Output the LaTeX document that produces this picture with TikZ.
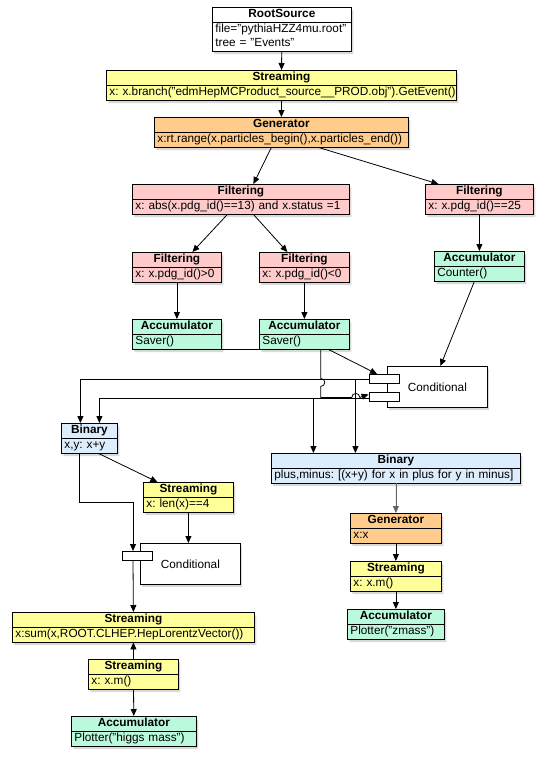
\documentclass[tikz,border=0pt]{standalone}
\usepackage{fontspec}
\setmainfont{Liberation Sans}
\usetikzlibrary{shapes.multipart}
\usetikzlibrary{shadows}
\usetikzlibrary{arrows.meta}
\usetikzlibrary{positioning}
\frenchspacing

\definecolor{strmcol}{HTML}{FFFF99}
\definecolor{gencol}{HTML}{FFCC8C}
\definecolor{filtcol}{HTML}{FFCACA}
\definecolor{acccol}{HTML}{BBF9DC}
\definecolor{bincol}{HTML}{DCEDFD}

\newcommand{\stagetitle}[1]{\makebox[\hsize][c]{\strut\textbf{#1}}}

\tikzset{
  stage/.style={rectangle split, rectangle split parts=2, draw, line width=0.8pt,
    anchor=north west, inner xsep=3pt, inner ysep=0pt, align=left,
    font=\fontsize{11.8}{14}\selectfont\frenchspacing,
    drop shadow={shadow xshift=2pt, shadow yshift=-3pt, opacity=0.3}},
  condbox/.style={draw, fill=white, line width=0.8pt, anchor=north west,
    minimum width=100pt, minimum height=41pt, font=\fontsize{11.8}{14}\selectfont,
    drop shadow={shadow xshift=2pt, shadow yshift=-3pt, opacity=0.3}},
  port/.style={draw, fill=white, line width=0.8pt, minimum width=30pt,
    minimum height=9pt, inner sep=0pt},
  flow/.style={line width=0.8pt, -{Triangle[length=7pt,width=6pt]}}
}

\begin{document}
\begin{tikzpicture}[x=1pt, y=-1pt]
\useasboundingbox (0,0) rectangle (544,758);

% upper chain
\node[stage, fill=white, text width=133pt] (src) at (212,7)
  {\stagetitle{RootSource}\nodepart{two}\strut file="pythiaHZZ4mu.root"\\\strut tree = "Events"};
\node[stage, fill=strmcol, text width=344pt] (strm1) at (106,70)
  {\stagetitle{Streaming}\nodepart{two}\strut x: x.branch("edmHepMCProduct\_source\_\_PROD.obj").GetEvent()};
\node[stage, fill=gencol, text width=248pt] (gen1) at (154,117)
  {\stagetitle{Generator}\nodepart{two}\strut x:rt.range(x.particles\_begin(),x.particles\_end())};

% filters
\node[stage, fill=filtcol, text width=211pt] (filt1) at (132,184)
  {\stagetitle{Filtering}\nodepart{two}\strut x: abs(x.pdg\_id()==13) and x.status =1};
\node[stage, fill=filtcol, text width=102pt] (filt2) at (425,184)
  {\stagetitle{Filtering}\nodepart{two}\strut x: x.pdg\_id()==25};
\node[stage, fill=filtcol, text width=83pt] (filt3) at (132,252)
  {\stagetitle{Filtering}\nodepart{two}\strut x: x.pdg\_id()>0};
\node[stage, fill=filtcol, text width=84pt] (filt4) at (259,252)
  {\stagetitle{Filtering}\nodepart{two}\strut x: x.pdg\_id()<0};

% accumulators
\node[stage, fill=acccol, text width=84pt] (cnt) at (434,251)
  {\stagetitle{Accumulator}\nodepart{two}\strut Counter()};
\node[stage, fill=acccol, text width=83pt] (sav1) at (132,319)
  {\stagetitle{Accumulator}\nodepart{two}\strut Saver()};
\node[stage, fill=acccol, text width=84pt] (sav2) at (259,319)
  {\stagetitle{Accumulator}\nodepart{two}\strut Saver()};

% conditionals
\node[condbox] (cond1) at (387,366) {Conditional};
\node[port] (p1) at ([xshift=-3pt,yshift=8pt]cond1.west) {};
\node[port] (p2) at ([xshift=-3pt,yshift=-10pt]cond1.west) {};

\node[stage, fill=bincol, text width=50pt] (bin1) at (61,423)
  {\stagetitle{Binary}\nodepart{two}\strut x,y: x+y};
\node[stage, fill=bincol, text width=243pt] (bin2) at (271,453)
  {\stagetitle{Binary}\nodepart{two}\strut plus,minus: [(x+y) for x in plus for y in minus]};
\node[stage, fill=strmcol, text width=84pt] (strm2) at (143,482)
  {\stagetitle{Streaming}\nodepart{two}\strut x: len(x)==4};

\node[condbox] (cond2) at (140,543) {Conditional};
\node[port] (p3) at ([xshift=-3pt,yshift=8pt]cond2.west) {};

% right column
\node[stage, fill=gencol, text width=85pt] (gen2) at (350,513)
  {\stagetitle{Generator}\nodepart{two}\strut x:x};
\node[stage, fill=strmcol, text width=85pt] (strm3) at (350,561)
  {\stagetitle{Streaming}\nodepart{two}\strut x: x.m()};
\node[stage, fill=acccol, text width=91pt] (acczm) at (347,609)
  {\stagetitle{Accumulator}\nodepart{two}\strut Plotter("zmass")};

% left column
\node[stage, fill=strmcol, text width=236pt] (strm4) at (12,612)
  {\stagetitle{Streaming}\nodepart{two}\strut x:sum(x,ROOT.CLHEP.HepLorentzVector())};
\node[stage, fill=strmcol, text width=84pt] (strm5) at (88,659)
  {\stagetitle{Streaming}\nodepart{two}\strut x: x.m()};
\node[stage, fill=acccol, text width=119pt] (acch) at (71,716)
  {\stagetitle{Accumulator}\nodepart{two}\strut Plotter("higgs mass")};

% connectors
\draw[flow] (src) -- (strm1);
\draw[flow] (strm1) -- (gen1);
\draw[flow] ([xshift=-10pt]gen1.south) -- ([xshift=12.5pt]filt1.north);
\draw[flow] ([xshift=37pt]gen1.south) -- ([xshift=-41pt]filt2.north);
\draw[flow] ([xshift=-13.5pt]filt1.south) -- ([xshift=15.5pt]filt3.north);
\draw[flow] ([xshift=12.5pt]filt1.south) -- ([xshift=-17pt]filt4.north);
\draw[flow] (filt3) -- (sav1);
\draw[flow] (filt4) -- (sav2);
\draw[flow] (filt2) -- (cnt);
\draw[flow] ([xshift=-5pt]cnt.south) -- ([xshift=3pt]cond1.north);
\draw[flow] ([xshift=24pt]sav2.south) -- ([xshift=-7pt]p1.north);
\draw[flow] (sav1.south east) -- ++(99,0) -- ++(0,29) arc(-90:90:4) -- ++(0,11)
  -- ++(31,0) arc(180:360:4) -- ([yshift=2.5pt]p2.west);
\draw[flow] (p1.west) -| ([xshift=-9pt]bin1.north);
\draw[flow] (p1.west) -| ([xshift=-40.5pt]bin2.north);
\draw[flow] ([yshift=-1.5pt]p2.west) -| ([xshift=10pt]bin1.north);
\draw[flow] ([yshift=-1.5pt]p2.west) -| ([xshift=-82.5pt]bin2.north);
\draw[flow] ([xshift=-10pt]bin1.south) -- ++(0,49) -| ([xshift=-4pt]p3.north);
\draw[flow] ([xshift=9pt]bin1.south) -- ([xshift=-31pt]strm2.north);
\draw[flow] (strm2.south) -- (strm2.south |- cond2.north);
\draw[flow] ([xshift=-4pt]p3.south) -- (strm4.north);
\draw[flow] (strm5) -- (strm4);
\draw[flow] (strm5) -- (acch);
\draw[flow, draw=black!60, fill=black!60] (bin2) -- (gen2);
\draw[flow] (gen2) -- (strm3);
\draw[flow] (strm3) -- (acczm);
\end{tikzpicture}
\end{document}
